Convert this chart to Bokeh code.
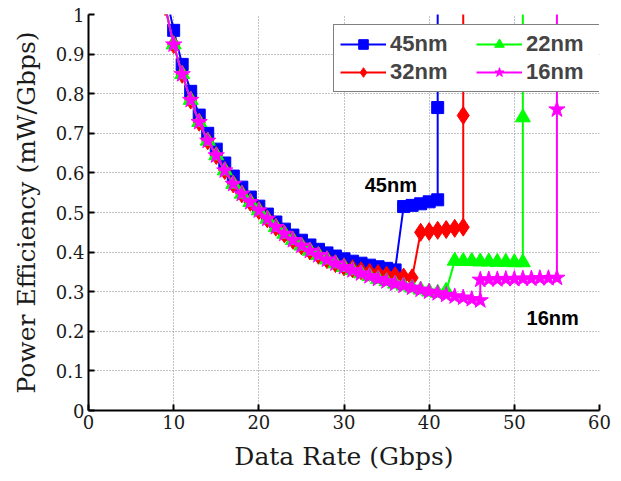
from bokeh.plotting import figure
from bokeh.models import (Range1d, FixedTicker, CustomJSTickFormatter, Legend, LegendItem, Label)
from bokeh.embed import file_html
from bokeh.resources import INLINE

# ---- data ----
x_45 = [9, 10, 11, 12, 13, 14, 15, 16, 17, 18, 19, 20, 21, 22, 23, 24, 25, 26, 27, 28,
        29, 30, 31, 32, 33, 34, 35, 36, 37, 38, 39, 40, 41, 41, 41]
y_45 = [1.06, 0.960, 0.874, 0.806, 0.746, 0.700, 0.660, 0.625, 0.592, 0.564, 0.539, 0.516,
        0.496, 0.476, 0.458, 0.443, 0.430, 0.418, 0.407, 0.398, 0.390, 0.383, 0.377, 0.372,
        0.367, 0.363, 0.359, 0.355, 0.515, 0.518, 0.522, 0.527, 0.532, 0.765, 1.3]

x_32 = [9, 10, 11, 12, 13, 14, 15, 16, 17, 18, 19, 20, 21, 22, 23, 24, 25, 26, 27, 28,
        29, 30, 31, 32, 33, 34, 35, 36, 37, 38, 39, 40, 41, 42, 43, 44, 44, 44]
y_32 = [1.02, 0.924, 0.849, 0.784, 0.728, 0.681, 0.644, 0.606, 0.572, 0.547, 0.526, 0.505,
        0.484, 0.463, 0.446, 0.430, 0.416, 0.403, 0.392, 0.381, 0.371, 0.363, 0.358, 0.353,
        0.349, 0.346, 0.342, 0.340, 0.337, 0.335, 0.450, 0.452, 0.455, 0.457, 0.460, 0.463,
        0.745, 1.3]

x_22 = [9, 10, 11, 12, 13, 14, 15, 16, 17, 18, 19, 20, 21, 22, 23, 24, 25, 26, 27, 28,
        29, 30, 31, 32, 33, 34, 35, 36, 37, 38, 39, 40, 41, 42, 43, 44, 45, 46, 47, 48,
        49, 50, 51, 51, 51]
y_22 = [1.02, 0.924, 0.849, 0.784, 0.728, 0.681, 0.644, 0.606, 0.572, 0.547, 0.526, 0.505,
        0.484, 0.463, 0.446, 0.430, 0.416, 0.403, 0.392, 0.381, 0.371, 0.362, 0.354, 0.346,
        0.339, 0.332, 0.326, 0.320, 0.315, 0.310, 0.305, 0.300, 0.297, 0.302, 0.378, 0.377,
        0.377, 0.376, 0.376, 0.375, 0.375, 0.374, 0.374, 0.740, 1.3]

x_16 = [9, 10, 11, 12, 13, 14, 15, 16, 17, 18, 19, 20, 21, 22, 23, 24, 25, 26, 27, 28,
        29, 30, 31, 32, 33, 34, 35, 36, 37, 38, 39, 40, 41, 42, 43, 44, 45, 46, 46, 47,
        48, 49, 50, 51, 52, 53, 54, 55, 55, 55]
y_16 = [1.02, 0.924, 0.849, 0.784, 0.728, 0.681, 0.644, 0.606, 0.572, 0.547, 0.526, 0.505,
        0.484, 0.463, 0.446, 0.430, 0.416, 0.403, 0.392, 0.381, 0.371, 0.362, 0.354, 0.346,
        0.339, 0.332, 0.326, 0.320, 0.315, 0.310, 0.305, 0.300, 0.296, 0.292, 0.288, 0.285,
        0.281, 0.278, 0.330, 0.331, 0.331, 0.332, 0.332, 0.333, 0.333, 0.334, 0.334, 0.335,
        0.760, 1.3]

x_ticks = [0, 10, 20, 30, 40, 50, 60]
y_ticks = [0, 0.1, 0.2, 0.3, 0.4, 0.5, 0.6, 0.7, 0.8, 0.9, 1]

series = [
    ("45nm", x_45, y_45, "#0000ff", "square", 12),
    ("32nm", x_32, y_32, "#ff0000", "diamond", 18),
    ("22nm", x_22, y_22, "#00ff00", "triangle", 15),
    ("16nm", x_16, y_16, "#ff00ff", "star", 17),
]

p = figure(width=613, height=473, output_backend="svg", toolbar_location=None,
           x_range=Range1d(0, 60), y_range=Range1d(0, 1))
p.min_border_left = 88
p.min_border_right = 14
p.min_border_top = 14
p.min_border_bottom = 60
p.outline_line_color = None
p.background_fill_color = "white"
p.border_fill_color = "white"

serif = "DejaVu Serif"
for ax in (p.xaxis[0], p.yaxis[0]):
    ax.axis_line_width = 2
    ax.axis_line_color = "black"
    ax.major_tick_in = 6
    ax.major_tick_out = 0
    ax.major_tick_line_width = 2
    ax.minor_tick_line_color = None
    ax.major_label_text_font = serif
    ax.major_label_text_font_size = "18px"
    ax.major_label_text_color = "#1a1a1a"
    ax.axis_label_text_font = serif
    ax.axis_label_text_font_style = "normal"
    ax.axis_label_text_font_size = "25px"
    ax.axis_label_text_color = "#1a1a1a"

p.xaxis[0].ticker = FixedTicker(ticks=x_ticks)
p.yaxis[0].ticker = FixedTicker(ticks=y_ticks)
p.yaxis[0].formatter = CustomJSTickFormatter(code="return tick.toFixed(1).replace(/\\.0$/, '');")
p.xaxis[0].major_label_standoff = 4
p.yaxis[0].major_label_standoff = 4
p.xaxis[0].axis_label = "Data Rate (Gbps)"
p.yaxis[0].axis_label = "Power Efficiency (mW/Gbps)"
p.xaxis[0].axis_label_standoff = 10
p.yaxis[0].axis_label_standoff = 12

for g in (p.xgrid[0], p.ygrid[0]):
    g.grid_line_color = "#888888"
    g.grid_line_dash = "1 2"
    g.grid_line_width = 1

items = []
for name, xs, ys, col, mk, sz in series:
    ln = p.line(xs, ys, line_color=col, line_width=2)
    sc = p.scatter(xs, ys, marker=mk, size=sz, fill_color=col, line_color=col, line_width=1)
    items.append(LegendItem(label=name, renderers=[ln, sc]))

legend = Legend(items=items, location=(245, 318), ncols=2)
legend.label_text_font = "Liberation Sans"
legend.label_text_font_style = "bold"
legend.label_text_font_size = "22px"
legend.glyph_width = 46
legend.glyph_height = 24
legend.label_height = 24
legend.label_width = 84
legend.label_standoff = 4
legend.spacing = 2
legend.padding = 6
legend.margin = 0
legend.border_line_color = "black"
legend.border_line_width = 1.5
legend.background_fill_alpha = 1
p.add_layout(legend, "center")

for txt, xv, yv in [("45nm", 35.5, 0.57), ("16nm", 54.5, 0.233)]:
    p.add_layout(Label(x=xv, y=yv, text=txt, text_align="center", text_baseline="middle",
                       text_font="Liberation Sans", text_font_style="bold",
                       text_font_size="20px", text_color="black"))

open("out.html", "w").write(file_html(p, INLINE))
